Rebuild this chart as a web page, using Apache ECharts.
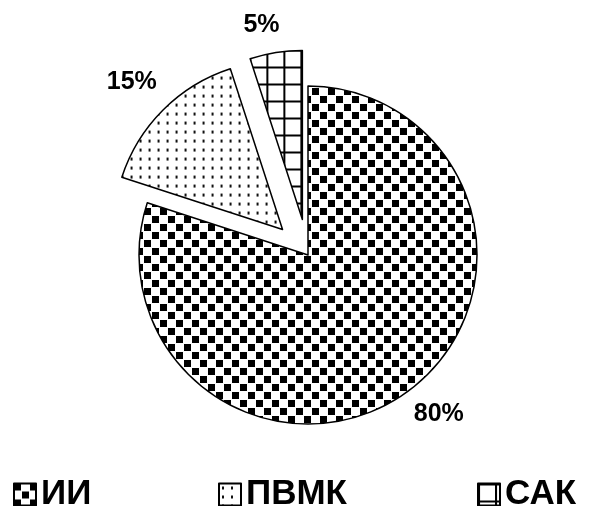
<!doctype html>
<html>
<head>
<meta charset="utf-8">
<title>pie</title>
<script src="https://cdn.jsdelivr.net/npm/echarts@6/dist/echarts.min.js"></script>
<style>
  html, body { margin: 0; padding: 0; background: #fff; }
  #chart { width: 601px; height: 506px; }
</style>
</head>
<body>
<div id="chart"></div>
<script>
// data
var names = ['ИИ', 'ПВМК', 'САК'];
var values = [80, 15, 5];
var pulledOut = [false, true, true];

// label placement per slice (outside, no guide line)
var labelLen = [28, 40, 28];
var labelLen2 = [-10, -22, -8];

function makeCanvas(size, draw) {
  var c = document.createElement('canvas');
  c.width = size;
  c.height = size;
  var ctx = c.getContext('2d');
  ctx.fillStyle = '#fff';
  ctx.fillRect(0, 0, size, size);
  ctx.fillStyle = '#000';
  draw(ctx);
  return c;
}

// checkerboard
var checker = makeCanvas(16, function(ctx) {
  ctx.fillRect(0, 0, 7, 7);
  ctx.fillRect(8, 8, 7, 7);
});
// sparse dots
var dots = makeCanvas(9, function(ctx) {
  ctx.fillStyle = '#111';
  ctx.fillRect(3, 3, 2, 3);
});
// square grid
var grid = makeCanvas(17, function(ctx) {
  ctx.fillRect(0, 0, 17, 2);
  ctx.fillRect(0, 0, 2, 17);
});
var patterns = [checker, dots, grid];

var data = names.map(function(n, i) {
  var fill = { image: patterns[i], repeat: 'repeat' };
  return {
    name: n,
    value: values[i],
    selected: pulledOut[i],
    itemStyle: { color: fill, borderColor: '#000', borderWidth: 1.5 },
    select: { itemStyle: { color: fill, borderColor: '#000', borderWidth: 1.5 } },
    labelLine: { show: false, length: labelLen[i], length2: labelLen2[i] }
  };
});

var chart = echarts.init(document.getElementById('chart'));

var legendStyle = {
  orient: 'horizontal',
  top: 477,
  padding: 0,
  itemWidth: 22,
  itemHeight: 22,
  icon: 'rect',
  selectedMode: false,
  itemStyle: { borderColor: '#000', borderWidth: 2 },
  textStyle: {
    fontFamily: 'Liberation Sans, Arial, sans-serif',
    fontWeight: 'bold',
    fontSize: 35,
    color: '#000'
  }
};
var legendLeft = [13, 218, 477];

chart.setOption({
  animation: false,
  backgroundColor: '#fff',
  legend: names.map(function(n, i) {
    return Object.assign({}, legendStyle, { data: [n], left: legendLeft[i] });
  }),
  series: [{
    type: 'pie',
    center: [308, 255],
    radius: 169,
    startAngle: 90,
    clockwise: true,
    selectedMode: 'multiple',
    selectedOffset: 36,
    avoidLabelOverlap: false,
    silent: true,
    emphasis: { disabled: true },
    label: {
      show: true,
      position: 'outside',
      formatter: '{c}%',
      distanceToLabelLine: 0,
      fontFamily: 'Liberation Sans, Arial, sans-serif',
      fontWeight: 'bold',
      fontSize: 25,
      color: '#000'
    },
    labelLine: { show: false },
    data: data
  }]
});
</script>
</body>
</html>
